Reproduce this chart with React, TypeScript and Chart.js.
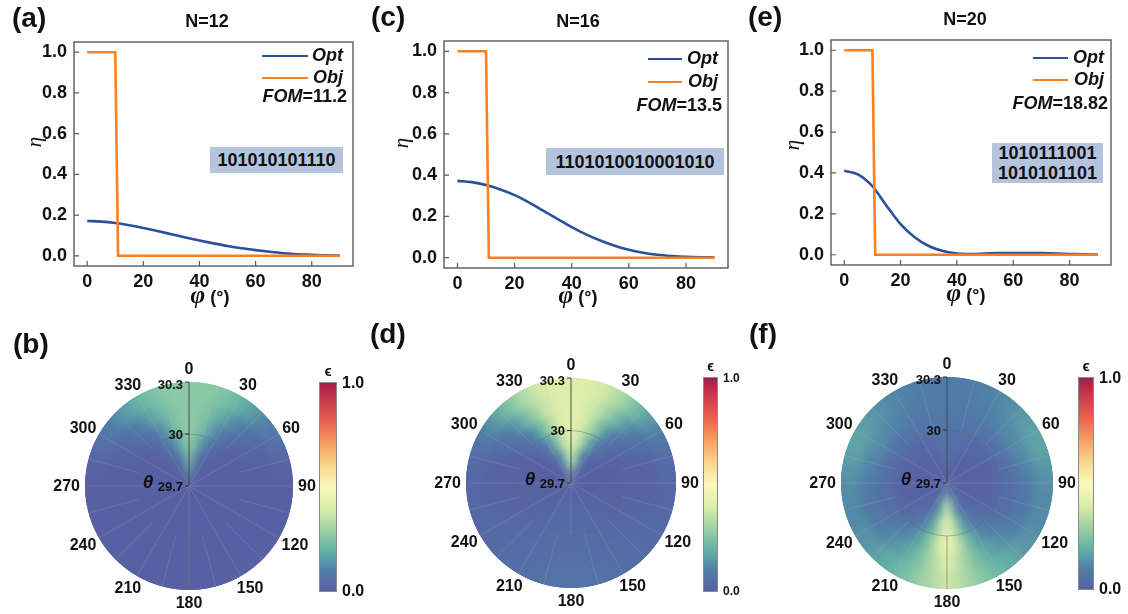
import React, { useEffect, useRef } from 'react';
import { Chart, registerables } from 'chart.js';
Chart.register(...registerables);

const SANS = '"Liberation Sans", Arial, Helvetica, sans-serif';
const SERIF = '"Liberation Serif", "Times New Roman", serif';

// ---------------- top row data (eta vs phi) ----------------
const PHI_SAMPLES = [0, 5, 10, 15, 20, 25, 30, 35, 40, 45, 50, 55, 60, 65, 70, 75, 80, 85, 90];
const OPT_N12 = [0.171, 0.168, 0.161, 0.150, 0.137, 0.122, 0.106, 0.090, 0.075, 0.061, 0.048, 0.037, 0.028, 0.020, 0.013, 0.008, 0.005, 0.002, 0.001];
const OPT_N16 = [0.372, 0.366, 0.352, 0.330, 0.303, 0.268, 0.228, 0.188, 0.148, 0.113, 0.083, 0.058, 0.038, 0.024, 0.014, 0.008, 0.004, 0.002, 0.001];
const OPT_N20 = [0.411, 0.392, 0.335, 0.240, 0.150, 0.086, 0.043, 0.018, 0.006, 0.004, 0.006, 0.008, 0.009, 0.009, 0.008, 0.006, 0.004, 0.002, 0.001];
const OBJ_PHI = [0, 10, 11, 90];
const OBJ_ETA = [1, 1, 0, 0];
const X_TICKS = [0, 20, 40, 60, 80];
const Y_TICKS = [0, 0.2, 0.4, 0.6, 0.8, 1.0];
const TITLES = ['N=12', 'N=16', 'N=20'];
const FOM_VALUES = ['11.2', '13.5', '18.82'];
const CODES = [['101010101110'], ['1101010010001010'], ['1010111001', '1010101101']];

// ---------------- bottom row data (epsilon(theta, phi)) ----------------
const PHI_SECTORS = [0, 10, 20, 30, 40, 50, 60, 70, 80, 90, 100, 110, 120, 130, 140, 150, 160, 170,
  180, 190, 200, 210, 220, 230, 240, 250, 260, 270, 280, 290, 300, 310, 320, 330, 340, 350];
const THETA_RINGS = [29.75, 29.85, 29.95, 30.05, 30.15, 30.25];
const ANGLE_TICKS = [0, 30, 60, 90, 120, 150, 180, 210, 240, 270, 300, 330];
const THETA_TICKS = [29.7, 30, 30.3];
const THETA_TICK_LABELS = ['29.7', '30', '30.3'];

// rows: inner ring (theta 29.75) -> outer ring (theta 30.25); columns: PHI_SECTORS
const EPS_N12 = [
  [0.22, 0.05, 0.01, 0.01, 0.01, 0.01, 0.01, 0.01, 0.01,
    0.01, 0.01, 0.01, 0.01, 0.01, 0.01, 0.01, 0.01, 0.01,
    0.01, 0.01, 0.01, 0.01, 0.01, 0.01, 0.01, 0.01, 0.01,
    0.01, 0.01, 0.01, 0.01, 0.01, 0.01, 0.01, 0.01, 0.05],
  [0.27, 0.13, 0.04, 0.02, 0.01, 0.01, 0.01, 0.01, 0.01,
    0.01, 0.01, 0.01, 0.01, 0.01, 0.01, 0.01, 0.01, 0.01,
    0.01, 0.01, 0.01, 0.01, 0.01, 0.01, 0.01, 0.01, 0.01,
    0.01, 0.01, 0.01, 0.01, 0.01, 0.01, 0.02, 0.04, 0.13],
  [0.28, 0.21, 0.11, 0.05, 0.02, 0.01, 0.01, 0.01, 0.01,
    0.01, 0.01, 0.01, 0.01, 0.01, 0.01, 0.01, 0.01, 0.01,
    0.01, 0.01, 0.01, 0.01, 0.01, 0.01, 0.01, 0.01, 0.01,
    0.01, 0.01, 0.01, 0.01, 0.01, 0.02, 0.05, 0.11, 0.21],
  [0.28, 0.25, 0.18, 0.10, 0.05, 0.03, 0.02, 0.01, 0.01,
    0.01, 0.01, 0.01, 0.01, 0.01, 0.01, 0.01, 0.01, 0.01,
    0.01, 0.01, 0.01, 0.01, 0.01, 0.01, 0.01, 0.01, 0.01,
    0.01, 0.01, 0.01, 0.02, 0.03, 0.05, 0.10, 0.18, 0.25],
  [0.27, 0.26, 0.22, 0.16, 0.10, 0.06, 0.03, 0.02, 0.01,
    0.01, 0.01, 0.01, 0.01, 0.01, 0.01, 0.01, 0.01, 0.01,
    0.01, 0.01, 0.01, 0.01, 0.01, 0.01, 0.01, 0.01, 0.01,
    0.01, 0.01, 0.02, 0.03, 0.06, 0.10, 0.16, 0.22, 0.26],
  [0.27, 0.27, 0.25, 0.21, 0.16, 0.11, 0.07, 0.04, 0.02,
    0.01, 0.01, 0.01, 0.01, 0.01, 0.01, 0.01, 0.01, 0.01,
    0.01, 0.01, 0.01, 0.01, 0.01, 0.01, 0.01, 0.01, 0.01,
    0.01, 0.02, 0.04, 0.07, 0.11, 0.16, 0.21, 0.25, 0.27],
];

const EPS_N16 = [
  [0.40, 0.12, 0.04, 0.02, 0.01, 0.01, 0.01, 0.01, 0.01,
    0.01, 0.01, 0.01, 0.01, 0.02, 0.02, 0.02, 0.02, 0.02,
    0.02, 0.02, 0.02, 0.02, 0.02, 0.02, 0.01, 0.01, 0.01,
    0.01, 0.01, 0.01, 0.01, 0.01, 0.01, 0.02, 0.04, 0.12],
  [0.42, 0.28, 0.12, 0.05, 0.02, 0.01, 0.01, 0.01, 0.01,
    0.01, 0.01, 0.02, 0.02, 0.02, 0.02, 0.03, 0.03, 0.03,
    0.03, 0.03, 0.03, 0.03, 0.02, 0.02, 0.02, 0.02, 0.01,
    0.01, 0.01, 0.01, 0.01, 0.01, 0.02, 0.05, 0.12, 0.28],
  [0.42, 0.37, 0.24, 0.12, 0.05, 0.03, 0.02, 0.01, 0.01,
    0.01, 0.02, 0.02, 0.02, 0.03, 0.03, 0.03, 0.04, 0.04,
    0.04, 0.04, 0.04, 0.03, 0.03, 0.03, 0.02, 0.02, 0.02,
    0.01, 0.01, 0.01, 0.02, 0.03, 0.05, 0.12, 0.24, 0.37],
  [0.42, 0.40, 0.32, 0.20, 0.10, 0.05, 0.03, 0.02, 0.02,
    0.02, 0.02, 0.02, 0.03, 0.03, 0.04, 0.04, 0.05, 0.05,
    0.05, 0.05, 0.05, 0.04, 0.04, 0.03, 0.03, 0.02, 0.02,
    0.02, 0.02, 0.02, 0.03, 0.05, 0.10, 0.20, 0.32, 0.40],
  [0.41, 0.40, 0.36, 0.27, 0.18, 0.10, 0.06, 0.03, 0.02,
    0.02, 0.02, 0.03, 0.03, 0.04, 0.04, 0.05, 0.05, 0.06,
    0.06, 0.06, 0.05, 0.05, 0.04, 0.04, 0.03, 0.03, 0.02,
    0.02, 0.02, 0.03, 0.06, 0.10, 0.18, 0.27, 0.36, 0.40],
  [0.40, 0.40, 0.38, 0.32, 0.24, 0.16, 0.10, 0.06, 0.04,
    0.03, 0.03, 0.03, 0.04, 0.04, 0.05, 0.05, 0.06, 0.07,
    0.07, 0.07, 0.06, 0.05, 0.05, 0.04, 0.04, 0.03, 0.03,
    0.03, 0.04, 0.06, 0.10, 0.16, 0.24, 0.32, 0.38, 0.40],
];

const EPS_N20 = [
  [0.04, 0.02, 0.02, 0.02, 0.02, 0.02, 0.02, 0.02, 0.02,
    0.02, 0.02, 0.02, 0.02, 0.02, 0.02, 0.02, 0.04, 0.10,
    0.32, 0.10, 0.04, 0.02, 0.02, 0.02, 0.02, 0.02, 0.02,
    0.02, 0.02, 0.02, 0.02, 0.02, 0.02, 0.02, 0.02, 0.02],
  [0.06, 0.04, 0.03, 0.02, 0.02, 0.02, 0.02, 0.02, 0.02,
    0.02, 0.02, 0.02, 0.02, 0.02, 0.03, 0.05, 0.10, 0.24,
    0.44, 0.24, 0.10, 0.05, 0.03, 0.02, 0.02, 0.02, 0.02,
    0.02, 0.02, 0.02, 0.02, 0.02, 0.02, 0.02, 0.03, 0.04],
  [0.07, 0.06, 0.05, 0.04, 0.03, 0.03, 0.03, 0.02, 0.02,
    0.02, 0.02, 0.02, 0.03, 0.04, 0.06, 0.09, 0.16, 0.32,
    0.48, 0.32, 0.16, 0.09, 0.06, 0.04, 0.03, 0.02, 0.02,
    0.02, 0.02, 0.02, 0.03, 0.03, 0.03, 0.04, 0.05, 0.06],
  [0.08, 0.08, 0.07, 0.07, 0.07, 0.07, 0.07, 0.06, 0.05,
    0.05, 0.05, 0.05, 0.06, 0.08, 0.10, 0.14, 0.22, 0.36,
    0.48, 0.36, 0.22, 0.14, 0.10, 0.08, 0.06, 0.05, 0.05,
    0.05, 0.05, 0.06, 0.07, 0.07, 0.07, 0.07, 0.07, 0.08],
  [0.09, 0.09, 0.09, 0.10, 0.11, 0.12, 0.13, 0.12, 0.11,
    0.09, 0.08, 0.08, 0.09, 0.11, 0.14, 0.18, 0.24, 0.33,
    0.42, 0.33, 0.24, 0.18, 0.14, 0.11, 0.09, 0.08, 0.08,
    0.09, 0.11, 0.12, 0.13, 0.12, 0.11, 0.10, 0.09, 0.09],
  [0.09, 0.09, 0.10, 0.11, 0.13, 0.15, 0.17, 0.17, 0.15,
    0.13, 0.12, 0.12, 0.13, 0.15, 0.18, 0.21, 0.26, 0.32,
    0.38, 0.32, 0.26, 0.21, 0.18, 0.15, 0.13, 0.12, 0.12,
    0.13, 0.15, 0.17, 0.17, 0.15, 0.13, 0.11, 0.10, 0.09],
];

// ---------------- styles / layout ----------------
const OPT_COLOR = '#2c4f9c';
const OBJ_COLOR = '#fe7f1f';
const CODE_BG = '#b5c4dd';
const TEXT = '#111';
// colour scale for epsilon (reversed spectral)
const EPS_STOPS: number[][] = [
  [0.0, 89, 93, 163],
  [0.1, 80, 126, 168],
  [0.2, 100, 180, 165],
  [0.3, 160, 210, 165],
  [0.4, 222, 238, 170],
  [0.5, 250, 250, 188],
  [0.6, 251, 214, 141],
  [0.7, 246, 163, 98],
  [0.8, 232, 104, 80],
  [0.9, 206, 62, 78],
  [1.0, 164, 28, 70],
];
function epsColor(v: number) {
  const t = Math.max(0, Math.min(1, v));
  for (let i = 1; i < EPS_STOPS.length; i++) {
    const a = EPS_STOPS[i - 1], b = EPS_STOPS[i];
    if (t <= b[0]) {
      const f = (t - a[0]) / (b[0] - a[0]);
      const c = [1, 2, 3].map((k) => Math.round(a[k] + (b[k] - a[k]) * f));
      return `rgb(${c[0]},${c[1]},${c[2]})`;
    }
  }
  const l = EPS_STOPS[EPS_STOPS.length - 1];
  return `rgb(${l[1]},${l[2]},${l[3]})`;
}

const Y_AXIS_W = 60;
const X_AXIS_H = 30;
const LINE_PANELS = [
  { left: 0, top: 0, w: 370, h: 310, area: { left: 74, top: 42, right: 353, bottom: 266 }, opt: OPT_N12 },
  { left: 370, top: 0, w: 370, h: 310, area: { left: 74, top: 41, right: 358, bottom: 268 }, opt: OPT_N16 },
  { left: 740, top: 0, w: 388, h: 310, area: { left: 91, top: 40, right: 371, bottom: 265 }, opt: OPT_N20 },
];

const POLAR_PANELS = [
  { left: 0, top: 310, w: 370, h: 304, cx: 189, cy: 486, R: 104, cbar: { x: 319, y: 382, w: 18, h: 210 }, cbFont: 16, epsFont: 15, eps: EPS_N12 },
  { left: 370, top: 310, w: 370, h: 304, cx: 571, cy: 483, R: 105, cbar: { x: 703, y: 377, w: 15, h: 215 }, cbFont: 12, epsFont: 14, eps: EPS_N16 },
  { left: 740, top: 310, w: 388, h: 304, cx: 947, cy: 483, R: 106, cbar: { x: 1078, y: 377, w: 16, h: 213 }, cbFont: 16, epsFont: 15, eps: EPS_N20 },
];

const framePlugin = {
  id: 'frameBox',
  afterDraw(chart: any) {
    const { ctx, chartArea: a, scales } = chart;
    ctx.save();
    ctx.strokeStyle = '#5a5a5a';
    ctx.lineWidth = 1.4;
    ctx.strokeRect(a.left, a.top, a.right - a.left, a.bottom - a.top);
    ctx.lineWidth = 1.2;
    ctx.beginPath();
    scales.x.ticks.forEach((t: any) => {
      const x = scales.x.getPixelForValue(t.value);
      ctx.moveTo(x, a.bottom);
      ctx.lineTo(x, a.bottom - 5);
    });
    scales.y.ticks.forEach((t: any) => {
      const y = scales.y.getPixelForValue(t.value);
      ctx.moveTo(a.left, y);
      ctx.lineTo(a.left + 5, y);
    });
    ctx.stroke();
    ctx.restore();
  },
};

function makeLineConfig(p: any): any {
  const tickFont = { family: SANS, size: 18, weight: 'bold' as const };
  return {
    type: 'line',
    data: {
      datasets: [
        {
          label: 'Obj',
          data: OBJ_PHI.map((x, i) => ({ x, y: OBJ_ETA[i] })),
          borderColor: OBJ_COLOR,
          borderWidth: 2.6,
          pointRadius: 0,
          tension: 0,
          borderJoinStyle: 'miter',
          fill: false,
        },
        {
          label: 'Opt',
          data: PHI_SAMPLES.map((x, i) => ({ x, y: p.opt[i] })),
          borderColor: OPT_COLOR,
          borderWidth: 2.6,
          pointRadius: 0,
          cubicInterpolationMode: 'monotone',
          fill: false,
        },
      ],
    },
    options: {
      responsive: false,
      animation: false,
      events: [],
      layout: {
        padding: {
          left: p.area.left - Y_AXIS_W,
          top: p.area.top,
          right: p.w - p.area.right,
          bottom: p.h - p.area.bottom - X_AXIS_H,
        },
      },
      plugins: { legend: { display: false }, tooltip: { enabled: false }, title: { display: false } },
      scales: {
        x: {
          type: 'linear',
          min: -4.7,
          max: 94.7,
          afterBuildTicks: (s: any) => { s.ticks = X_TICKS.map((v) => ({ value: v })); },
          afterFit: (s: any) => { s.height = X_AXIS_H; },
          grid: { display: false, drawTicks: false },
          border: { display: false },
          ticks: { font: tickFont, color: TEXT, padding: 5, maxRotation: 0, autoSkip: false, callback: (v: any) => String(v) },
        },
        y: {
          type: 'linear',
          min: -0.05,
          max: 1.05,
          afterBuildTicks: (s: any) => { s.ticks = Y_TICKS.map((v) => ({ value: v })); },
          afterFit: (s: any) => { s.width = Y_AXIS_W; },
          grid: { display: false, drawTicks: false },
          border: { display: false },
          ticks: { font: tickFont, color: TEXT, padding: 7, autoSkip: false, callback: (v: any) => Number(v).toFixed(1) },
        },
      },
    },
    plugins: [framePlugin],
  };
}

function geom(chart: any) {
  const a = chart.chartArea;
  return {
    cx: (a.left + a.right) / 2,
    cy: (a.top + a.bottom) / 2,
    R: Math.min(a.right - a.left, a.bottom - a.top) / 2,
  };
}

// smooth angular shading inside one ring: a conic gradient whose stops are the ring's values
function ringGradient(chart: any, ring: number[]) {
  if (!chart.chartArea) return epsColor(ring[0]);
  const { cx, cy } = geom(chart);
  const g = chart.ctx.createConicGradient(-Math.PI / 2, cx, cy);
  ring.forEach((v, i) => g.addColorStop(PHI_SECTORS[i] / 360, epsColor(v)));
  g.addColorStop(1, epsColor(ring[0]));
  return g;
}

function polarDecor(p: any) {
  return {
    id: 'polarDecor',
    afterDatasetsDraw(chart: any) {
      const { ctx, canvas } = chart;
      const { cx, cy, R } = geom(chart);
      // soften ring boundaries (smooth density look)
      const off = document.createElement('canvas');
      off.width = canvas.width;
      off.height = canvas.height;
      const o = off.getContext('2d') as CanvasRenderingContext2D;
      o.save();
      o.translate(cx, cy);
      o.scale(1.12, 1.12);
      o.translate(-cx, -cy);
      o.drawImage(canvas, 0, 0);
      o.restore();
      o.drawImage(canvas, 0, 0);
      ctx.save();
      ctx.beginPath();
      ctx.arc(cx, cy, R, 0, Math.PI * 2);
      ctx.clip();
      ctx.filter = 'blur(4.5px)';
      ctx.drawImage(off, 0, 0);
      ctx.filter = 'none';
      ctx.restore();

      ctx.save();
      ctx.lineWidth = 1;
      for (let deg = 0; deg < 360; deg += 15) {
        const rad = (deg * Math.PI) / 180;
        const major = deg % 30 === 0;
        const r0 = major ? 0 : R / 2;
        ctx.strokeStyle = 'rgba(200,200,210,0.16)';
        ctx.beginPath();
        ctx.moveTo(cx + Math.sin(rad) * r0, cy - Math.cos(rad) * r0);
        ctx.lineTo(cx + Math.sin(rad) * R, cy - Math.cos(rad) * R);
        ctx.stroke();
      }
      ctx.strokeStyle = 'rgba(100,100,110,0.45)';
      ctx.beginPath();
      ctx.arc(cx, cy, R * 0.5, 0, Math.PI * 2);
      ctx.stroke();
      ctx.strokeStyle = 'rgba(90,90,90,0.5)';
      ctx.beginPath();
      ctx.moveTo(cx, cy + R / 2);
      ctx.lineTo(cx, cy + R);
      ctx.stroke();
      ctx.strokeStyle = 'rgba(55,55,55,0.85)';
      ctx.beginPath();
      ctx.moveTo(cx, cy);
      ctx.lineTo(cx, cy - R);
      ctx.stroke();
      ctx.restore();
    },
    afterDraw(chart: any) {
      const { ctx } = chart;
      const { cx, cy, R } = geom(chart);
      ctx.save();
      ctx.fillStyle = TEXT;
      // angular tick labels
      ctx.font = `bold 16px ${SANS}`;
      ctx.textAlign = 'center';
      ctx.textBaseline = 'middle';
      ANGLE_TICKS.forEach((deg) => {
        const rad = (deg * Math.PI) / 180;
        const s = Math.sin(rad), c = Math.cos(rad);
        const label = String(deg);
        const w = ctx.measureText(label).width;
        const gap = 5, h = 16;
        const x = cx + s * (R + gap) + s * (w / 2);
        const y = cy - c * (R + gap) - c * (h / 2);
        ctx.fillText(label, x, y + 1);
      });
      // radial (theta) tick labels
      ctx.font = `bold 13px ${SANS}`;
      ctx.textAlign = 'right';
      ctx.strokeStyle = 'rgba(40,40,40,0.9)';
      ctx.lineWidth = 1;
      THETA_TICKS.forEach((th, i) => {
        const f = (th - THETA_TICKS[0]) / (THETA_TICKS[THETA_TICKS.length - 1] - THETA_TICKS[0]);
        const y = cy - f * R + (i === THETA_TICKS.length - 1 ? 2 : 0);
        ctx.fillText(THETA_TICK_LABELS[i], cx - 6, y + 1);
        ctx.beginPath();
        ctx.moveTo(cx - 4, cy - f * R);
        ctx.lineTo(cx, cy - f * R);
        ctx.stroke();
      });
      ctx.font = `italic bold 19px ${SANS}`;
      ctx.textAlign = 'center';
      ctx.fillText('θ', cx - 41, cy - 3);
      // colour bar
      const bx = p.cbar.x - p.left, by = p.cbar.y - p.top;
      const g = ctx.createLinearGradient(0, by + p.cbar.h, 0, by);
      EPS_STOPS.forEach((st) => g.addColorStop(st[0], `rgb(${st[1]},${st[2]},${st[3]})`));
      ctx.fillStyle = g;
      ctx.fillRect(bx, by, p.cbar.w, p.cbar.h);
      ctx.strokeStyle = '#8a8a8a';
      ctx.lineWidth = 1;
      ctx.strokeRect(bx + 0.5, by + 0.5, p.cbar.w - 1, p.cbar.h - 1);
      ctx.fillStyle = TEXT;
      ctx.font = `bold ${p.cbFont}px ${SANS}`;
      ctx.textAlign = 'left';
      ctx.fillText('1.0', bx + p.cbar.w + 5, by + 2);
      ctx.fillText('0.0', bx + p.cbar.w + 5, by + p.cbar.h);
      ctx.font = `bold ${p.epsFont}px ${SANS}`;
      ctx.textAlign = 'center';
      ctx.fillText('ϵ', bx + p.cbar.w / 2, by - 10);
      ctx.restore();
    },
  };
}

function makePolarConfig(p: any): any {
  const cxl = p.cx - p.left, cyl = p.cy - p.top;
  const ringsOuterFirst = THETA_RINGS.map((_, j) => p.eps[THETA_RINGS.length - 1 - j]);
  const step = PHI_SECTORS[1] - PHI_SECTORS[0];
  return {
    type: 'doughnut',
    data: {
      labels: PHI_SECTORS.map(String),
      datasets: ringsOuterFirst.map((ring: number[]) => ({
        data: PHI_SECTORS.map(() => step),
        backgroundColor: (c: any) => ringGradient(c.chart, ring),
        borderColor: (c: any) => ringGradient(c.chart, ring),
        borderWidth: 1,
      })),
    },
    options: {
      responsive: false,
      animation: false,
      events: [],
      cutout: 0,
      rotation: -step / 2,
      layout: {
        padding: {
          left: cxl - p.R,
          top: cyl - p.R,
          right: p.w - (cxl + p.R),
          bottom: p.h - (cyl + p.R),
        },
      },
      plugins: { legend: { display: false }, tooltip: { enabled: false } },
    },
    plugins: [polarDecor(p)],
  };
}

function ChartCanvas({ p, make }: any) {
  const ref = useRef<HTMLCanvasElement>(null);
  useEffect(() => {
    const chart = new Chart(ref.current as HTMLCanvasElement, make(p));
    return () => chart.destroy();
  }, []);
  return (
    <canvas
      ref={ref}
      width={p.w}
      height={p.h}
      style={{ position: 'absolute', left: p.left, top: p.top, width: p.w, height: p.h }}
    />
  );
}

function Txt({ x, y, align = 'center', size = 17, weight = 'bold', italic = false, family = SANS, rotate = 0, children }: any) {
  const tx = align === 'left' ? '0' : align === 'right' ? '-100%' : '-50%';
  return (
    <div
      style={{
        position: 'absolute',
        left: x,
        top: y,
        transform: `translate(${tx}, -50%)${rotate ? ` rotate(${rotate}deg)` : ''}`,
        font: `${italic ? 'italic ' : ''}${weight} ${size}px ${family}`,
        lineHeight: 1,
        whiteSpace: 'nowrap',
        color: TEXT,
      }}
    >
      {children}
    </div>
  );
}

function HLine({ x1, x2, y, color }: any) {
  return <div style={{ position: 'absolute', left: x1, top: y - 1.3, width: x2 - x1, height: 2.6, background: color }} />;
}

const LETTERS = [
  { t: '(a)', x: 12, y: 18 }, { t: '(c)', x: 371, y: 17 }, { t: '(e)', x: 748, y: 17 },
  { t: '(b)', x: 13, y: 344 }, { t: '(d)', x: 370, y: 334 }, { t: '(f)', x: 749, y: 334 },
];
const TITLE_POS = [{ x: 207, y: 21 }, { x: 578, y: 21 }, { x: 965, y: 19 }];
const LEGEND_POS = [
  { lx1: 262, lx2: 308, tr: 343, y1: 55, y2: 77, fy: 96, fr: 347 },
  { lx1: 648, lx2: 682, tr: 718, y1: 58, y2: 81, fy: 105, fr: 722 },
  { lx1: 1033, lx2: 1068, tr: 1104, y1: 57, y2: 79, fy: 103, fr: 1108 },
];
const CODE_BOX = [
  { x: 210, y: 147, w: 133, h: 26 },
  { x: 546, y: 148, w: 178, h: 27 },
  { x: 992, y: 143, w: 111, h: 40 },
];
const ETA_POS = [{ x: 34, y: 142 }, { x: 401, y: 143 }, { x: 792, y: 145 }];
const PHI_LABEL_POS = [{ x: 210, y: 295 }, { x: 578, y: 295 }, { x: 966, y: 293 }];

export default function App() {
  return (
    <div style={{ position: 'fixed', left: 0, top: 0, width: 1128, height: 614, background: '#fff', overflow: 'hidden' }}>
      {LINE_PANELS.map((p, i) => <ChartCanvas key={'l' + i} p={p} make={makeLineConfig} />)}
      {POLAR_PANELS.map((p, i) => <ChartCanvas key={'p' + i} p={p} make={makePolarConfig} />)}
      {LETTERS.map((l) => <Txt key={l.t} x={l.x} y={l.y} align="left" size={28}>{l.t}</Txt>)}
      {TITLES.map((t, i) => <Txt key={t} x={TITLE_POS[i].x} y={TITLE_POS[i].y} size={18}>{t}</Txt>)}
      {LEGEND_POS.map((l, i) => (
        <React.Fragment key={'lg' + i}>
          <HLine x1={l.lx1} x2={l.lx2} y={l.y1 + 1} color={OPT_COLOR} />
          <Txt x={l.tr} y={l.y1} align="right" size={18} italic>Opt</Txt>
          <HLine x1={l.lx1} x2={l.lx2} y={l.y2 + 1} color={OBJ_COLOR} />
          <Txt x={l.tr} y={l.y2} align="right" size={18} italic>Obj</Txt>
          <Txt x={l.fr} y={l.fy} align="right" size={18}>
            <span style={{ fontStyle: 'italic' }}>FOM</span>={FOM_VALUES[i]}
          </Txt>
        </React.Fragment>
      ))}
      {CODE_BOX.map((b, i) => (
        <div
          key={'cb' + i}
          style={{
            position: 'absolute', left: b.x, top: b.y, width: b.w, height: b.h, background: CODE_BG,
            display: 'flex', flexDirection: 'column', alignItems: 'center', justifyContent: 'center',
            font: `bold 18px ${SANS}`, lineHeight: '20px', color: TEXT,
          }}
        >
          {CODES[i].map((c) => <div key={c}>{c}</div>)}
        </div>
      ))}
      {ETA_POS.map((e, i) => (
        <Txt key={'eta' + i} x={e.x} y={e.y} size={21} weight="normal" italic family={SERIF} rotate={-90}>η</Txt>
      ))}
      {PHI_LABEL_POS.map((e, i) => (
        <Txt key={'phi' + i} x={e.x} y={e.y} size={18}>
          <span style={{ font: `italic bold 25px ${SERIF}` }}>φ</span> (°)
        </Txt>
      ))}
    </div>
  );
}
